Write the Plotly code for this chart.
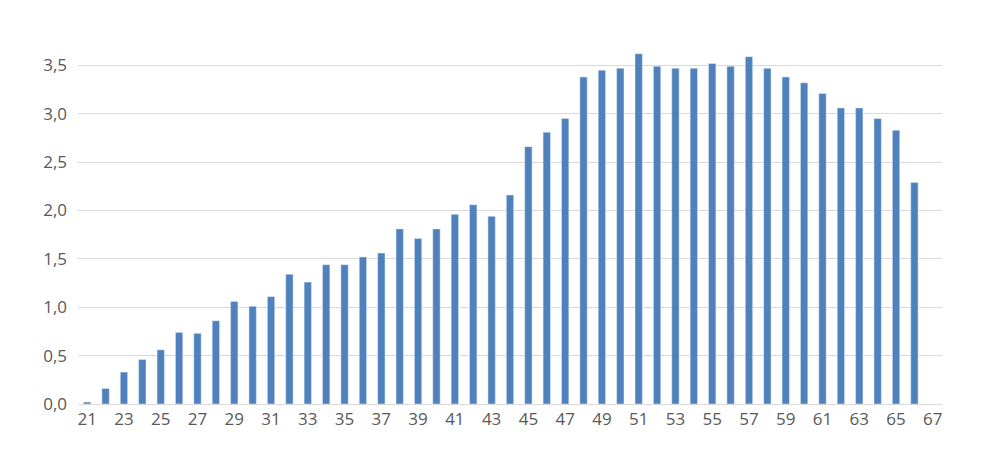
import plotly.graph_objects as go

ages = list(range(21, 67))
values = [0.02, 0.16, 0.33, 0.46, 0.56, 0.74, 0.73, 0.86, 1.06, 1.01,
          1.11, 1.34, 1.26, 1.44, 1.44, 1.52, 1.56, 1.81, 1.71, 1.81,
          1.96, 2.06, 1.94, 2.16, 2.66, 2.81, 2.95, 3.38, 3.45, 3.47,
          3.62, 3.49, 3.47, 3.47, 3.52, 3.49, 3.59, 3.47, 3.38, 3.32,
          3.21, 3.06, 3.06, 2.95, 2.83, 2.29]

fig = go.Figure(go.Bar(x=ages, y=values, width=0.4, marker_color="#4f81bd"))

fig.update_layout(
    width=1003, height=460,
    margin=dict(l=70, r=69, t=9, b=64),
    plot_bgcolor="white", paper_bgcolor="white",
    separators=", ",
    showlegend=False,
    font=dict(family="Open Sans", size=17, color="#595959"),
)
fig.update_xaxes(range=[20.5, 67.5], tickmode="linear", tick0=21, dtick=2,
                 showgrid=False, showline=True, linecolor="#d9d9d9", ticks="")
fig.update_yaxes(range=[0, 4], dtick=0.5, tickformat=".1f",
                 gridcolor="#d9d9d9", zeroline=False, ticks="", ticklabelstandoff=10)

fig.write_html("out.html")
